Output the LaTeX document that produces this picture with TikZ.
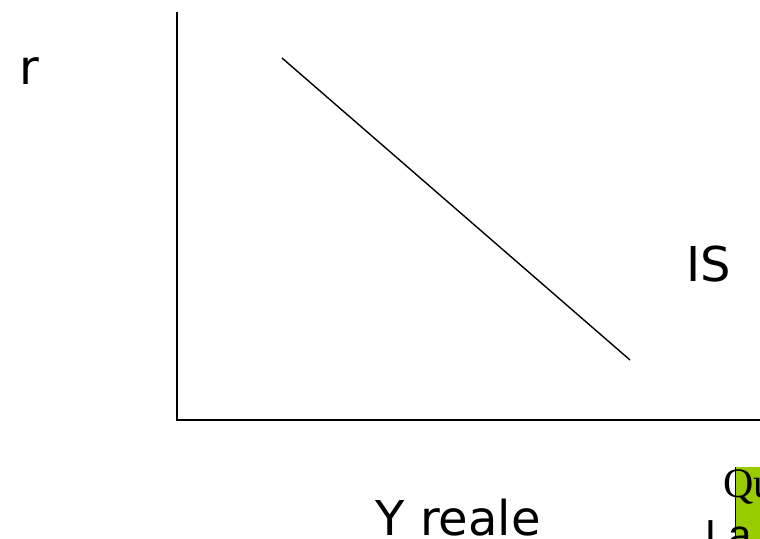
\documentclass[tikz,border=0pt]{standalone}
\usepackage{fontspec}
\setmainfont{DejaVu Sans}
\newfontfamily\serifnote{Liberation Serif}
\newfontfamily\sansnote{Liberation Sans}
\usetikzlibrary{positioning, calc}
\definecolor{notegreen}{RGB}{153,204,0}
\tikzset{
  axis/.style={line width=1pt, draw=black},
  curve/.style={line width=0.7pt, draw=black},
  lbl/.style={font=\fontsize{24}{28}\selectfont, inner sep=0pt, anchor=base},
  notebox/.style={fill=notegreen},
  notetext/.style={inner sep=0pt, anchor=base west}
}
\begin{document}
\begin{tikzpicture}[x=0.5pt, y=-0.5pt]
            \useasboundingbox (0,0) rectangle (760,539);
            \clip (0,0) rectangle (760,539);

            % --- Assi ---
            \coordinate (origine) at (177,420);
            \coordinate (ytop) at (177,12);
            \coordinate (xend) at (760,420);
            \draw [axis] (ytop) -- (origine) -- (xend);

            % --- Curva IS ---
            \coordinate (is1) at (282,58);
            \coordinate (is2) at (630,360);
            \draw [curve] (is1) -- (is2);

            % --- Etichette ---
            \node (rlab) [lbl] at (29,85) {r};
            \node (islab) [lbl] at (709,282) {IS};
            \node (ylab) [lbl] at (458,535) {Y reale};

            % --- Nota ---
            \coordinate (nota) at (735,467);
            \fill [notebox] (nota) rectangle ++(40,90);
            \draw (nota) -- ++(0,90);
            \node (qu) [notetext, font=\serifnote\fontsize{21}{25}\selectfont] at (723,497) {Qu};
            \node (la) [notetext, font=\sansnote\fontsize{21}{25}\selectfont] at (705,549) {La};

        \end{tikzpicture}
\end{document}
